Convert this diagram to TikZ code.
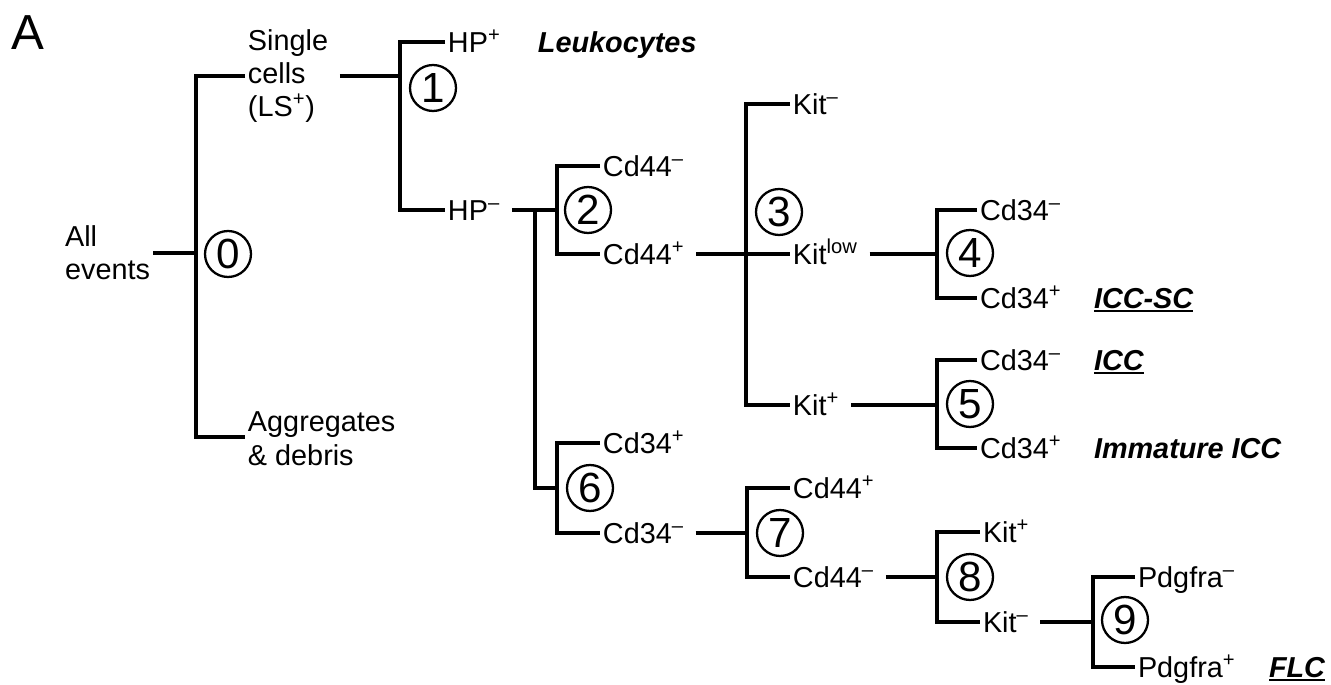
\documentclass[tikz,border=0pt]{standalone}
\usepackage{fontspec}
\setmainfont{Liberation Sans}
\newcommand{\posm}{\textsuperscript{+}}
\newcommand{\negm}{\textsuperscript{\textendash}}
\newsavebox{\keybox}
\newcommand{\keyline}[1]{\sbox{\keybox}{#1}%
  \rlap{\rule[-2.3pt]{\wd\keybox}{1.1pt}}\usebox{\keybox}}

\begin{document}
\begin{tikzpicture}[x=.02cm,y=-.02cm,
  marker/.style={anchor=west,inner sep=1.5pt,text height=11.8pt,text depth=0pt,
    font=\fontsize{16.4}{19}\selectfont},
  population/.style={align=left,inner sep=1.5pt,
    font=\fontsize{16.4}{19}\selectfont},
  celltype/.style={marker,font=\fontsize{16.4}{19}\selectfont\bfseries\itshape},
  gate/.style={draw,circle,line width=1.3pt,minimum size=.92cm,inner sep=0pt,
    font=\fontsize{24}{24}\selectfont},
  split/.style={line width=2.2pt},
  feed/.style={split,shorten <=5pt},
  panel/.style={anchor=base west,inner sep=0pt,font=\fontsize{28}{28}\selectfont}
]
% pixel grid of the figure, y pointing down
\useasboundingbox (0,0) rectangle (1331,685);

\node[panel] (letter) at (11,50) {A};

% gate 0
\coordinate (g0) at (196,253);
\node[population,anchor=east] (all) at (153,253) {All\\events};
\node[population,anchor=west] (single) at (245,76) {Single\\cells\\(LS\posm)};
\node[population,anchor=north west] (debris) at (245,409) {Aggregates\\\& debris};
\node[gate] (gate0) at (228,254) {0};
\draw[split] (all.east) -- (g0);
\draw[split] (single.west) -| (g0) |- ([yshift=-16pt]debris.north west);

% gate 1
\coordinate (g1) at (400,76);
\node[marker] (hpp) at (445,42) {HP\posm};
\node[marker] (hpn) at (445,210) {HP\negm};
\node[celltype] (leuko) at (535,42) {Leukocytes};
\node[gate] (gate1) at (433,88) {1};
\draw[feed] (single.east) -- (g1);
\draw[split] (hpp.west) -| (g1) |- (hpn.west);

% gate 2
\coordinate (g2) at (557,210);
\coordinate (hub) at (535,210);
\node[marker] (cd44n) at (600,166) {Cd44\negm};
\node[marker] (cd44p) at (600,254) {Cd44\posm};
\node[gate] (gate2) at (588,210) {2};
\draw[feed] (hpn.east) -- (g2);
\draw[split] (cd44n.west) -| (g2) |- (cd44p.west);

% gate 3
\coordinate (g3) at (746,254);
\node[marker] (kitn) at (790,104) {Kit\negm};
\node[marker] (kitlow) at (790,254) {Kit\textsuperscript{low}};
\node[marker] (kitp) at (790,405) {Kit\posm};
\node[gate] (gate3) at (779,212) {3};
\draw[feed] (cd44p.east) -- (kitlow.west);
\draw[split] (kitn.west) -| (g3) |- (kitp.west);

% gate 4
\coordinate (g4) at (937,254);
\node[marker] (cd34n4) at (977,210) {Cd34\negm};
\node[marker] (cd34p4) at (977,298) {Cd34\posm};
\node[celltype] (iccsc) at (1091,298) {\keyline{ICC-SC}};
\node[gate] (gate4) at (970,253) {4};
\draw[feed] (kitlow.east) -- (g4);
\draw[split] (cd34n4.west) -| (g4) |- (cd34p4.west);

% gate 5
\coordinate (g5) at (937,405);
\node[marker] (cd34n5) at (977,360) {Cd34\negm};
\node[marker] (cd34p5) at (977,448) {Cd34\posm};
\node[celltype] (icc) at (1091,360) {\keyline{ICC}};
\node[celltype] (immature) at (1091,448) {Immature ICC};
\node[gate] (gate5) at (970,404) {5};
\draw[feed] (kitp.east) -- (g5);
\draw[split] (cd34n5.west) -| (g5) |- (cd34p5.west);

% gate 6
\coordinate (g6) at (557,488);
\node[marker] (cd34p6) at (600,443) {Cd34\posm};
\node[marker] (cd34n6) at (600,533) {Cd34\negm};
\node[gate] (gate6) at (590,488) {6};
\draw[split] (hub) |- (g6);
\draw[split] (cd34p6.west) -| (g6) |- (cd34n6.west);

% gate 7
\coordinate (g7) at (747,533);
\node[marker] (cd44p7) at (790,488) {Cd44\posm};
\node[marker] (cd44n7) at (790,577) {Cd44\negm};
\node[gate] (gate7) at (780,533) {7};
\draw[feed] (cd34n6.east) -- (g7);
\draw[split] (cd44p7.west) -| (g7) |- (cd44n7.west);

% gate 8
\coordinate (g8) at (937,577);
\node[marker] (kitp8) at (980,532) {Kit\posm};
\node[marker] (kitn8) at (980,622) {Kit\negm};
\node[gate] (gate8) at (970,577) {8};
\draw[feed] (cd44n7.east) -- (g8);
\draw[split] (kitp8.west) -| (g8) |- (kitn8.west);

% gate 9
\coordinate (g9) at (1093,622);
\node[marker] (pdgn) at (1135,577) {Pdgfra\negm};
\node[marker] (pdgp) at (1135,667) {Pdgfra\posm};
\node[celltype] (flc) at (1266,667) {\keyline{FLC}};
\node[gate] (gate9) at (1125,620) {9};
\draw[feed] (kitn8.east) -- (g9);
\draw[split] (pdgn.west) -| (g9) |- (pdgp.west);
\end{tikzpicture}
\end{document}
